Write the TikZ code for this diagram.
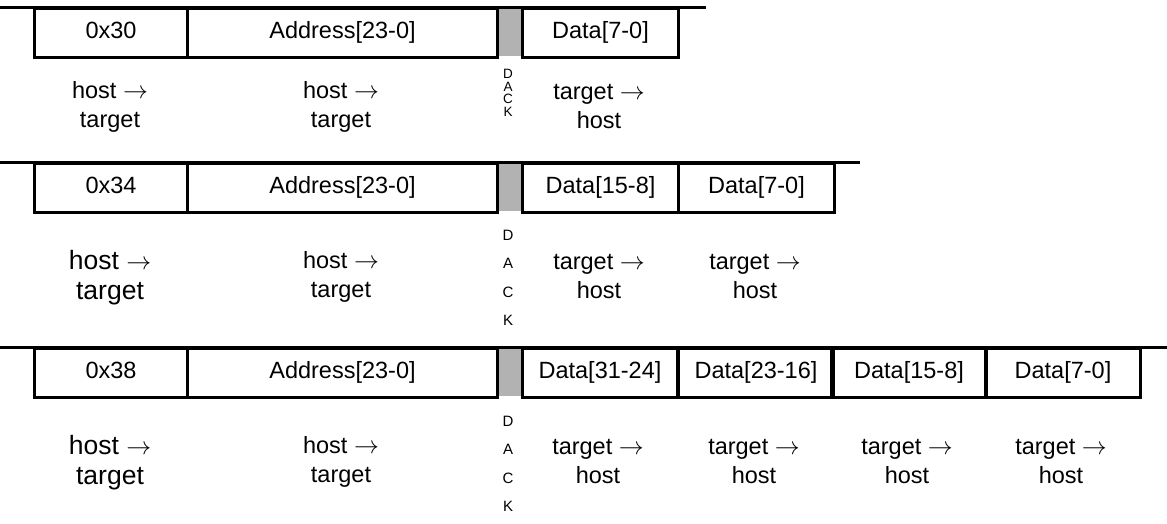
\documentclass[tikz,border=0pt]{standalone}
\usepackage{fontspec}
\setmainfont{Liberation Sans}

\tikzset{
    field/.style={draw, line width=3pt, minimum height=49pt, inner sep=0pt, anchor=north west,
        text height=17pt, text depth=7pt, font=\fontsize{23.5}{28}\selectfont},
    slot/.style={fill=gray!60},
    bus/.style={line width=3pt},
    dir/.style={align=center, font=\fontsize{23.5}{29}\selectfont},
    bigdir/.style={align=center, font=\fontsize{26.5}{30}\selectfont},
    dack/.style={align=center, font=\fontsize{15}{28.5}\selectfont},
    tightdack/.style={align=center, font=\fontsize{13.5}{12.6}\selectfont}
}

\begin{document}
\begin{tikzpicture}[x=1pt, y=-1pt]
    \useasboundingbox (0,0) rectangle (1167,523);

    % Row 1: 0x30, one data byte
    \fill[slot] (496,7) rectangle (521,56);
    \node[field, minimum width=153pt] (r1op) at (33,7) {0x30};
    \node[field, minimum width=310pt] (r1ad) at (186,7) {Address[23-0]};
    \node[field, minimum width=156pt] (r1d0) at (521,7) {Data[7-0]};
    \coordinate (r1s) at (0,7);
    \coordinate (r1e) at (706,7);
    \draw[bus] (r1s) -- (r1e);

    \node[dir] (r1h1) at (110,107) {host $\rightarrow$\\target};
    \node[dir] (r1h2) at (341,107) {host $\rightarrow$\\target};
    \node[tightdack] (r1ack) at (508,93) {D\\A\\C\\K};
    \node[dir] (r1t0) at (599,107) {target $\rightarrow$\\host};

    % Row 2: 0x34, two data bytes
    \fill[slot] (496,162) rectangle (521,211);
    \node[field, minimum width=153pt] (r2op) at (33,162) {0x34};
    \node[field, minimum width=310pt] (r2ad) at (186,162) {Address[23-0]};
    \foreach \i/\x/\lab in {0/521/Data[15-8], 1/677/Data[7-0]} {
        \node[field, minimum width=156pt] (r2d\i) at (\x,162) {\lab};
        \node[dir] (r2t\i) at (\x+78,277) {target $\rightarrow$\\host};
    }
    \coordinate (r2s) at (0,162);
    \coordinate (r2e) at (860,162);
    \draw[bus] (r2s) -- (r2e);

    \node[bigdir] (r2h1) at (110,278) {host $\rightarrow$\\target};
    \node[dir] (r2h2) at (341,277) {host $\rightarrow$\\target};
    \node[dack] (r2ack) at (508,278) {D\\A\\C\\K};

    % Row 3: 0x38, four data bytes
    \fill[slot] (496,347) rectangle (521,396);
    \node[field, minimum width=153pt] (r3op) at (33,347) {0x38};
    \node[field, minimum width=310pt] (r3ad) at (186,347) {Address[23-0]};
    \foreach \i/\x/\lab in {0/521/Data[31-24], 1/677/Data[23-16], 2/830/Data[15-8], 3/984/Data[7-0]} {
        \node[field, minimum width=155pt] (r3d\i) at (\x,347) {\lab};
        \node[dir] (r3t\i) at (\x+77,462) {target $\rightarrow$\\host};
    }
    \coordinate (r3s) at (0,347);
    \coordinate (r3e) at (1167,347);
    \draw[bus] (r3s) -- (r3e);

    \node[bigdir] (r3h1) at (110,463) {host $\rightarrow$\\target};
    \node[dir] (r3h2) at (341,462) {host $\rightarrow$\\target};
    \node[dack] (r3ack) at (508,464) {D\\A\\C\\K};

\end{tikzpicture}
\end{document}
